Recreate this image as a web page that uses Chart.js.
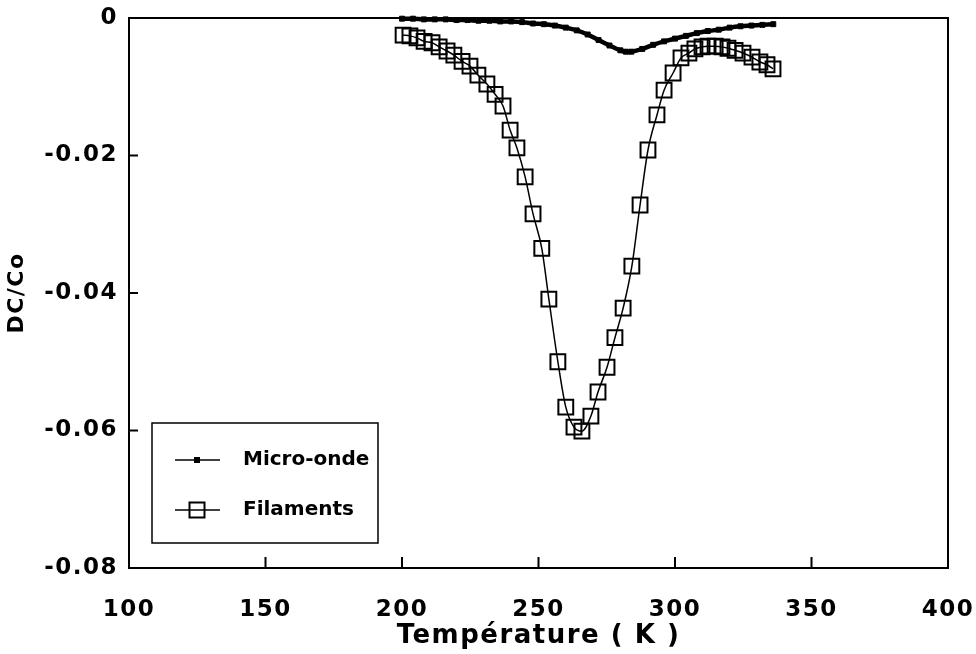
<!DOCTYPE html>
<html>
<head>
<meta charset="utf-8">
<script src="https://cdn.jsdelivr.net/npm/chart.js@4.4.1/dist/chart.umd.min.js"></script>
<style>
  html, body { margin: 0; padding: 0; background: #fff; }
</style>
</head>
<body>
<canvas id="dcChart" width="976" height="654"></canvas>
<script>
// Micro-onde (small filled squares, dense)
const microTemps = [200, 204, 208, 212, 216, 220, 224, 228, 232, 236, 240, 244, 248, 252, 256, 260, 264, 268, 272, 276, 280, 282, 284, 288, 292, 296, 300, 304, 308, 312, 316, 320, 324, 328, 332, 336];
const microValues = [-0.0001, -0.0001, -0.0002, -0.0002, -0.0002, -0.0003, -0.0003, -0.0004, -0.0004, -0.0005, -0.0005, -0.0006, -0.0008, -0.0009, -0.0011, -0.0014, -0.0018, -0.0024, -0.0032, -0.0040, -0.0047, -0.0049, -0.0049, -0.0045, -0.0039, -0.0034, -0.0030, -0.0026, -0.0022, -0.0019, -0.0017, -0.0014, -0.0012, -0.0011, -0.0010, -0.0009];

// Filaments (open squares + smooth line)
const filTemps = [200.4, 202.9, 205.5, 208.1, 211.0, 213.6, 216.5, 219.0, 222.0, 224.9, 227.8, 231.1, 234.1, 237.0, 239.6, 242.1, 245.1, 248.0, 251.2, 253.8, 257.1, 260.0, 263.0, 265.9, 269.2, 271.8, 275.1, 278.0, 281.0, 284.2, 287.2, 290.1, 293.4, 296.0, 299.3, 302.2, 305.1, 307.3, 309.9, 312.1, 314.7, 317.2, 319.4, 322.0, 324.9, 328.2, 331.1, 333.7, 335.9];
const filValues = [-0.0025, -0.0026, -0.0029, -0.0034, -0.0036, -0.0042, -0.0048, -0.0054, -0.0063, -0.0070, -0.0083, -0.0096, -0.0111, -0.0128, -0.0163, -0.0189, -0.0231, -0.0285, -0.0335, -0.0409, -0.0500, -0.0566, -0.0595, -0.0601, -0.0579, -0.0544, -0.0508, -0.0465, -0.0422, -0.0361, -0.0272, -0.0192, -0.0141, -0.0105, -0.0080, -0.0058, -0.0051, -0.0045, -0.0042, -0.0041, -0.0041, -0.0042, -0.0044, -0.0047, -0.0051, -0.0057, -0.0064, -0.0068, -0.0074];

const xTicks = [100, 150, 200, 250, 300, 350, 400];
const yTicks = [0, -0.02, -0.04, -0.06, -0.08];

const FONT = "'DejaVu Sans', sans-serif";

const microPoints = microTemps.map((t, i) => ({ x: t, y: microValues[i] }));
const filPoints = filTemps.map((t, i) => ({ x: t, y: filValues[i] }));

// the old plotter spaced its letters out a bit
const spacingPlugin = {
    id: "spacing",
    beforeDraw(chart) {
        chart.ctx.letterSpacing = "1.5px";
    }
};

// frame, inward tick marks and the boxed legend
const framePlugin = {
    id: "frame",
    afterDraw(chart) {
        const ctx = chart.ctx;
        const a = chart.chartArea;
        const xs = chart.scales.x;
        const ys = chart.scales.y;
        ctx.save();
        ctx.strokeStyle = "#000";
        ctx.lineWidth = 2;
        ctx.strokeRect(a.left, a.top, a.right - a.left, a.bottom - a.top);

        ctx.beginPath();
        xTicks.forEach(v => {
            const px = xs.getPixelForValue(v);
            ctx.moveTo(px, a.bottom);
            ctx.lineTo(px, a.bottom - 11);
        });
        yTicks.forEach(v => {
            const py = ys.getPixelForValue(v);
            ctx.moveTo(a.left, py);
            ctx.lineTo(a.left + 9, py);
        });
        ctx.stroke();

        // legend box
        const bx = a.left + 23, by = a.top + 405, bw = 226, bh = 120;
        ctx.fillStyle = "#fff";
        ctx.fillRect(bx, by, bw, bh);
        ctx.lineWidth = 1.5;
        ctx.strokeRect(bx, by, bw, bh);

        const rows = [
            { label: "Micro-onde", y: by + 37, size: 6, filled: true },
            { label: "Filaments", y: by + 87, size: 15, filled: false }
        ];
        ctx.letterSpacing = "0px";
        ctx.font = "bold 20px " + FONT;
        ctx.textBaseline = "middle";
        ctx.textAlign = "left";
        rows.forEach(r => {
            ctx.lineWidth = 1.5;
            ctx.beginPath();
            ctx.moveTo(bx + 23, r.y);
            ctx.lineTo(bx + 68, r.y);
            ctx.stroke();
            const cx = bx + 45;
            if (r.filled) {
                ctx.fillStyle = "#000";
                ctx.fillRect(cx - r.size / 2, r.y - r.size / 2, r.size, r.size);
            } else {
                ctx.lineWidth = 2;
                ctx.strokeRect(cx - r.size / 2, r.y - r.size / 2, r.size, r.size);
            }
            ctx.fillStyle = "#000";
            ctx.fillText(r.label, bx + 91, r.y);
        });
        ctx.restore();
    }
};

new Chart(document.getElementById("dcChart").getContext("2d"), {
    type: "scatter",
    data: {
        datasets: [
            {
                label: "Micro-onde",
                data: microPoints,
                showLine: true,
                borderColor: "#000",
                backgroundColor: "#000",
                borderWidth: 4.5,
                pointStyle: "rect",
                pointRadius: 3.5,
                pointBorderWidth: 1,
                tension: 0.3,
                clip: false
            },
            {
                label: "Filaments",
                data: filPoints,
                showLine: true,
                borderColor: "#000",
                backgroundColor: "rgba(0,0,0,0)",
                borderWidth: 1.5,
                pointStyle: "rect",
                pointRadius: 10.5,
                pointBorderWidth: 2,
                cubicInterpolationMode: "monotone",
                clip: false
            }
        ]
    },
    plugins: [spacingPlugin, framePlugin],
    options: {
        responsive: false,
        animation: false,
        layout: { padding: { top: 18, right: 28, bottom: 0, left: 0 } },
        plugins: {
            legend: { display: false },
            tooltip: { enabled: false }
        },
        scales: {
            x: {
                type: "linear",
                min: 100,
                max: 400,
                afterBuildTicks: s => { s.ticks = xTicks.map(v => ({ value: v })); },
                afterFit: s => { s.height = 86; s.paddingLeft = 0; s.paddingRight = 0; },
                grid: { display: false, drawTicks: false },
                border: { display: false },
                ticks: {
                    padding: 28,
                    color: "#000",
                    font: { family: FONT, size: 23, weight: "bold" }
                },
                title: {
                    display: true,
                    text: "Température ( K )",
                    color: "#000",
                    font: { family: FONT, size: 26, weight: "bold" },
                    padding: { top: 0, bottom: 2 }
                }
            },
            y: {
                type: "linear",
                min: -0.08,
                max: 0,
                afterBuildTicks: s => { s.ticks = yTicks.map(v => ({ value: v })); },
                afterFit: s => { s.width = 129; s.paddingTop = 0; s.paddingBottom = 0; },
                grid: { display: false, drawTicks: false },
                border: { display: false },
                ticks: {
                    padding: 11,
                    color: "#000",
                    font: { family: FONT, size: 23, weight: "bold" },
                    callback: v => (v === 0 ? "0" : v.toFixed(2))
                },
                title: {
                    display: true,
                    text: "DC/Co",
                    color: "#000",
                    font: { family: FONT, size: 22, weight: "bold" },
                    padding: { top: 4, bottom: 0 }
                }
            }
        }
    }
});
</script>
</body>
</html>
